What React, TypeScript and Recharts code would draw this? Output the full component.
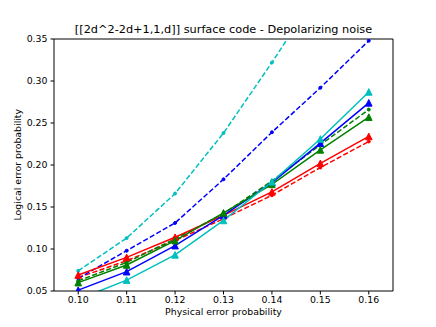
import React from 'react';
import {
  LineChart,
  Line,
  XAxis,
  YAxis,
  ReferenceLine
} from 'recharts';

// physical error rates (x axis)
const physErr = [0.10, 0.11, 0.12, 0.13, 0.14, 0.15, 0.16];

// solid lines, triangle markers
const solidRed = [0.069, 0.090, 0.114, 0.140, 0.168, 0.202, 0.234];
const solidBlue = [0.051, 0.073, 0.104, 0.140, 0.179, 0.226, 0.274];
const solidGreen = [0.060, 0.081, 0.110, 0.143, 0.177, 0.218, 0.257];
const solidCyan = [0.040, 0.063, 0.093, 0.134, 0.180, 0.231, 0.287];

// dashed lines, point markers
const dashRed = [0.066, 0.086, 0.110, 0.136, 0.164, 0.197, 0.228];
const dashGreen = [0.062, 0.084, 0.112, 0.142, 0.181, 0.224, 0.266];
const dashBlue = [0.065, 0.098, 0.131, 0.183, 0.239, 0.292, 0.348];
const dashCyan = [0.074, 0.113, 0.166, 0.238, 0.322, 0.41, 0.50];

const xTicks = [0.10, 0.11, 0.12, 0.13, 0.14, 0.15, 0.16];
const yTicks = [0.05, 0.10, 0.15, 0.20, 0.25, 0.30, 0.35];

const data = physErr.map((p, i) => ({
  p,
  sr: solidRed[i],
  sb: solidBlue[i],
  sg: solidGreen[i],
  sc: solidCyan[i],
  dr: dashRed[i],
  dg: dashGreen[i],
  db: dashBlue[i],
  dc: dashCyan[i]
}));

const RED = '#ff0000';
const BLUE = '#0000ff';
const GREEN = '#008000';
const CYAN = '#00bfbf';
const FONT = '"DejaVu Sans", sans-serif';

const triangle = (color: string) => (props: any) => {
  const { cx, cy, index } = props;
  if (cx == null || cy == null) return <g key={index} />;
  const s = 3.3;
  return (
    <path
      key={index}
      d={`M${cx},${cy - s} L${cx + s},${cy + s} L${cx - s},${cy + s} Z`}
      fill={color}
      stroke={color}
      strokeWidth={1}
    />
  );
};

const point = (color: string) => (props: any) => {
  const { cx, cy, index } = props;
  if (cx == null || cy == null) return <g key={index} />;
  return <circle key={index} cx={cx} cy={cy} r={1.5} fill={color} stroke={color} strokeWidth={1} />;
};

const tickStyle = { fill: '#000', fontSize: 9.4, fontFamily: FONT };

export default function App() {
  const solid = [
    { key: 'sr', color: RED },
    { key: 'sb', color: BLUE },
    { key: 'sg', color: GREEN },
    { key: 'sc', color: CYAN }
  ];
  const dashed = [
    { key: 'dr', color: RED },
    { key: 'dg', color: GREEN },
    { key: 'db', color: BLUE },
    { key: 'dc', color: CYAN }
  ];

  return (
    <div style={{ position: 'absolute', left: 0, top: 0, background: '#fff' }}>
      <LineChart
        width={436}
        height={327}
        data={data}
        margin={{ top: 39, right: 43, left: 0, bottom: 0 }}
      >
        <XAxis
          dataKey="p"
          type="number"
          domain={[0.095, 0.165]}
          ticks={xTicks}
          tickFormatter={(v: number) => v.toFixed(2)}
          allowDataOverflow
          height={36}
          tickSize={3.5}
          tickMargin={2}
          stroke="#000"
          tick={tickStyle}
        />
        <YAxis
          type="number"
          domain={[0.05, 0.35]}
          ticks={yTicks}
          tickFormatter={(v: number) => v.toFixed(2)}
          allowDataOverflow
          width={54}
          tickSize={3.5}
          tickMargin={3}
          stroke="#000"
          tick={tickStyle}
        />
        <ReferenceLine y={0.35} stroke="#000" strokeWidth={1} />
        <ReferenceLine x={0.165} stroke="#000" strokeWidth={1} />
        {dashed.map((s) => (
          <Line
            key={s.key}
            dataKey={s.key}
            stroke={s.color}
            strokeWidth={1.5}
            strokeDasharray="5.2 2.3"
            dot={point(s.color)}
            activeDot={false}
            isAnimationActive={false}
          />
        ))}
        {solid.map((s) => (
          <Line
            key={s.key}
            dataKey={s.key}
            stroke={s.color}
            strokeWidth={1.5}
            dot={triangle(s.color)}
            activeDot={false}
            isAnimationActive={false}
          />
        ))}
        <text x={223.5} y={33} textAnchor="middle" fontSize={11.3} fontFamily={FONT} fill="#000">
          [[2d^2-2d+1,1,d]] surface code - Depolarizing noise
        </text>
        <text x={223.5} y={315} textAnchor="middle" fontSize={9.4} fontFamily={FONT} fill="#000">
          Physical error probability
        </text>
        <text
          x={21}
          y={164.7}
          textAnchor="middle"
          fontSize={9.4}
          fontFamily={FONT}
          fill="#000"
          transform="rotate(-90 21 164.7)"
        >
          Logical error probability
        </text>
      </LineChart>
    </div>
  );
}
